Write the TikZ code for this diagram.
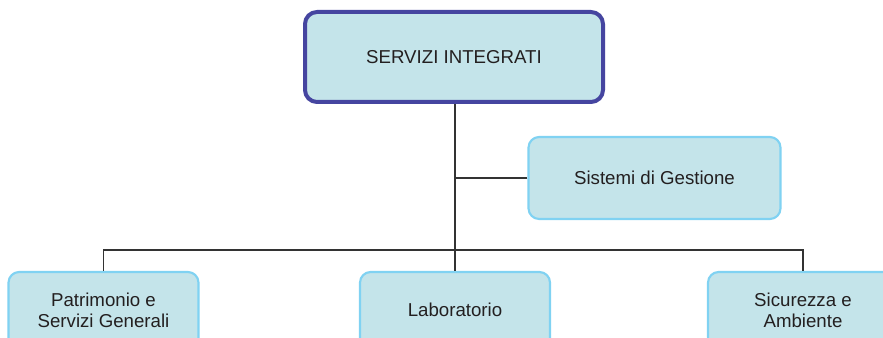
\documentclass[tikz,border=0pt]{standalone}
\usepackage{fontspec}
\setmainfont{Liberation Sans}
\definecolor{boxfill}{HTML}{C4E4EA}
\definecolor{topborder}{HTML}{4545A0}
\definecolor{subborder}{HTML}{80D2F2}
\definecolor{linecol}{HTML}{333333}
\definecolor{textcol}{HTML}{231F20}
\begin{document}
\begin{tikzpicture}[x=0.75pt,y=-0.75pt,
  topbox/.style={draw=topborder,line width=3pt,fill=boxfill,rounded corners=9pt,
    inner sep=0pt,align=center,
    text=textcol,font=\fontsize{14pt}{16pt}\selectfont},
  subbox/.style={draw=subborder,line width=1.6pt,fill=boxfill,rounded corners=8pt,
    inner sep=0pt,align=center,text=textcol,font=\fontsize{14pt}{16pt}\selectfont},
  conn/.style={draw=linecol,line width=1.1pt}]
\useasboundingbox (0,0) rectangle (883,338);
\clip (0,0) rectangle (883,338);
\fill[white] (0,0) rectangle (883,338);
% nodes
\node[topbox,minimum width=223.5pt,minimum height=67.5pt] (top) at (454,57) {SERVIZI INTEGRATI};
\node[subbox,minimum width=189pt,minimum height=61.5pt] (sg) at (654.5,178) {Sistemi di Gestione};
\node[subbox,minimum width=142.5pt,minimum height=57pt] (pat) at (103.5,310) {Patrimonio e\\Servizi Generali};
\node[subbox,minimum width=142.5pt,minimum height=57pt] (lab) at (455,310) {Laboratorio};
\node[subbox,minimum width=142.5pt,minimum height=57pt] (sic) at (803,310) {Sicurezza e\\Ambiente};
% connectors
\coordinate (hub) at (455,250);
\draw[conn] (top.south -| hub) -- (hub);
\draw[conn] (sg.west) -- (sg.west -| hub);
\draw[conn] (pat.north) -- (pat.north |- hub) -- (sic.north |- hub) -- (sic.north);
\draw[conn,line width=0.8pt] (hub) -- (lab.north);
\end{tikzpicture}
\end{document}
